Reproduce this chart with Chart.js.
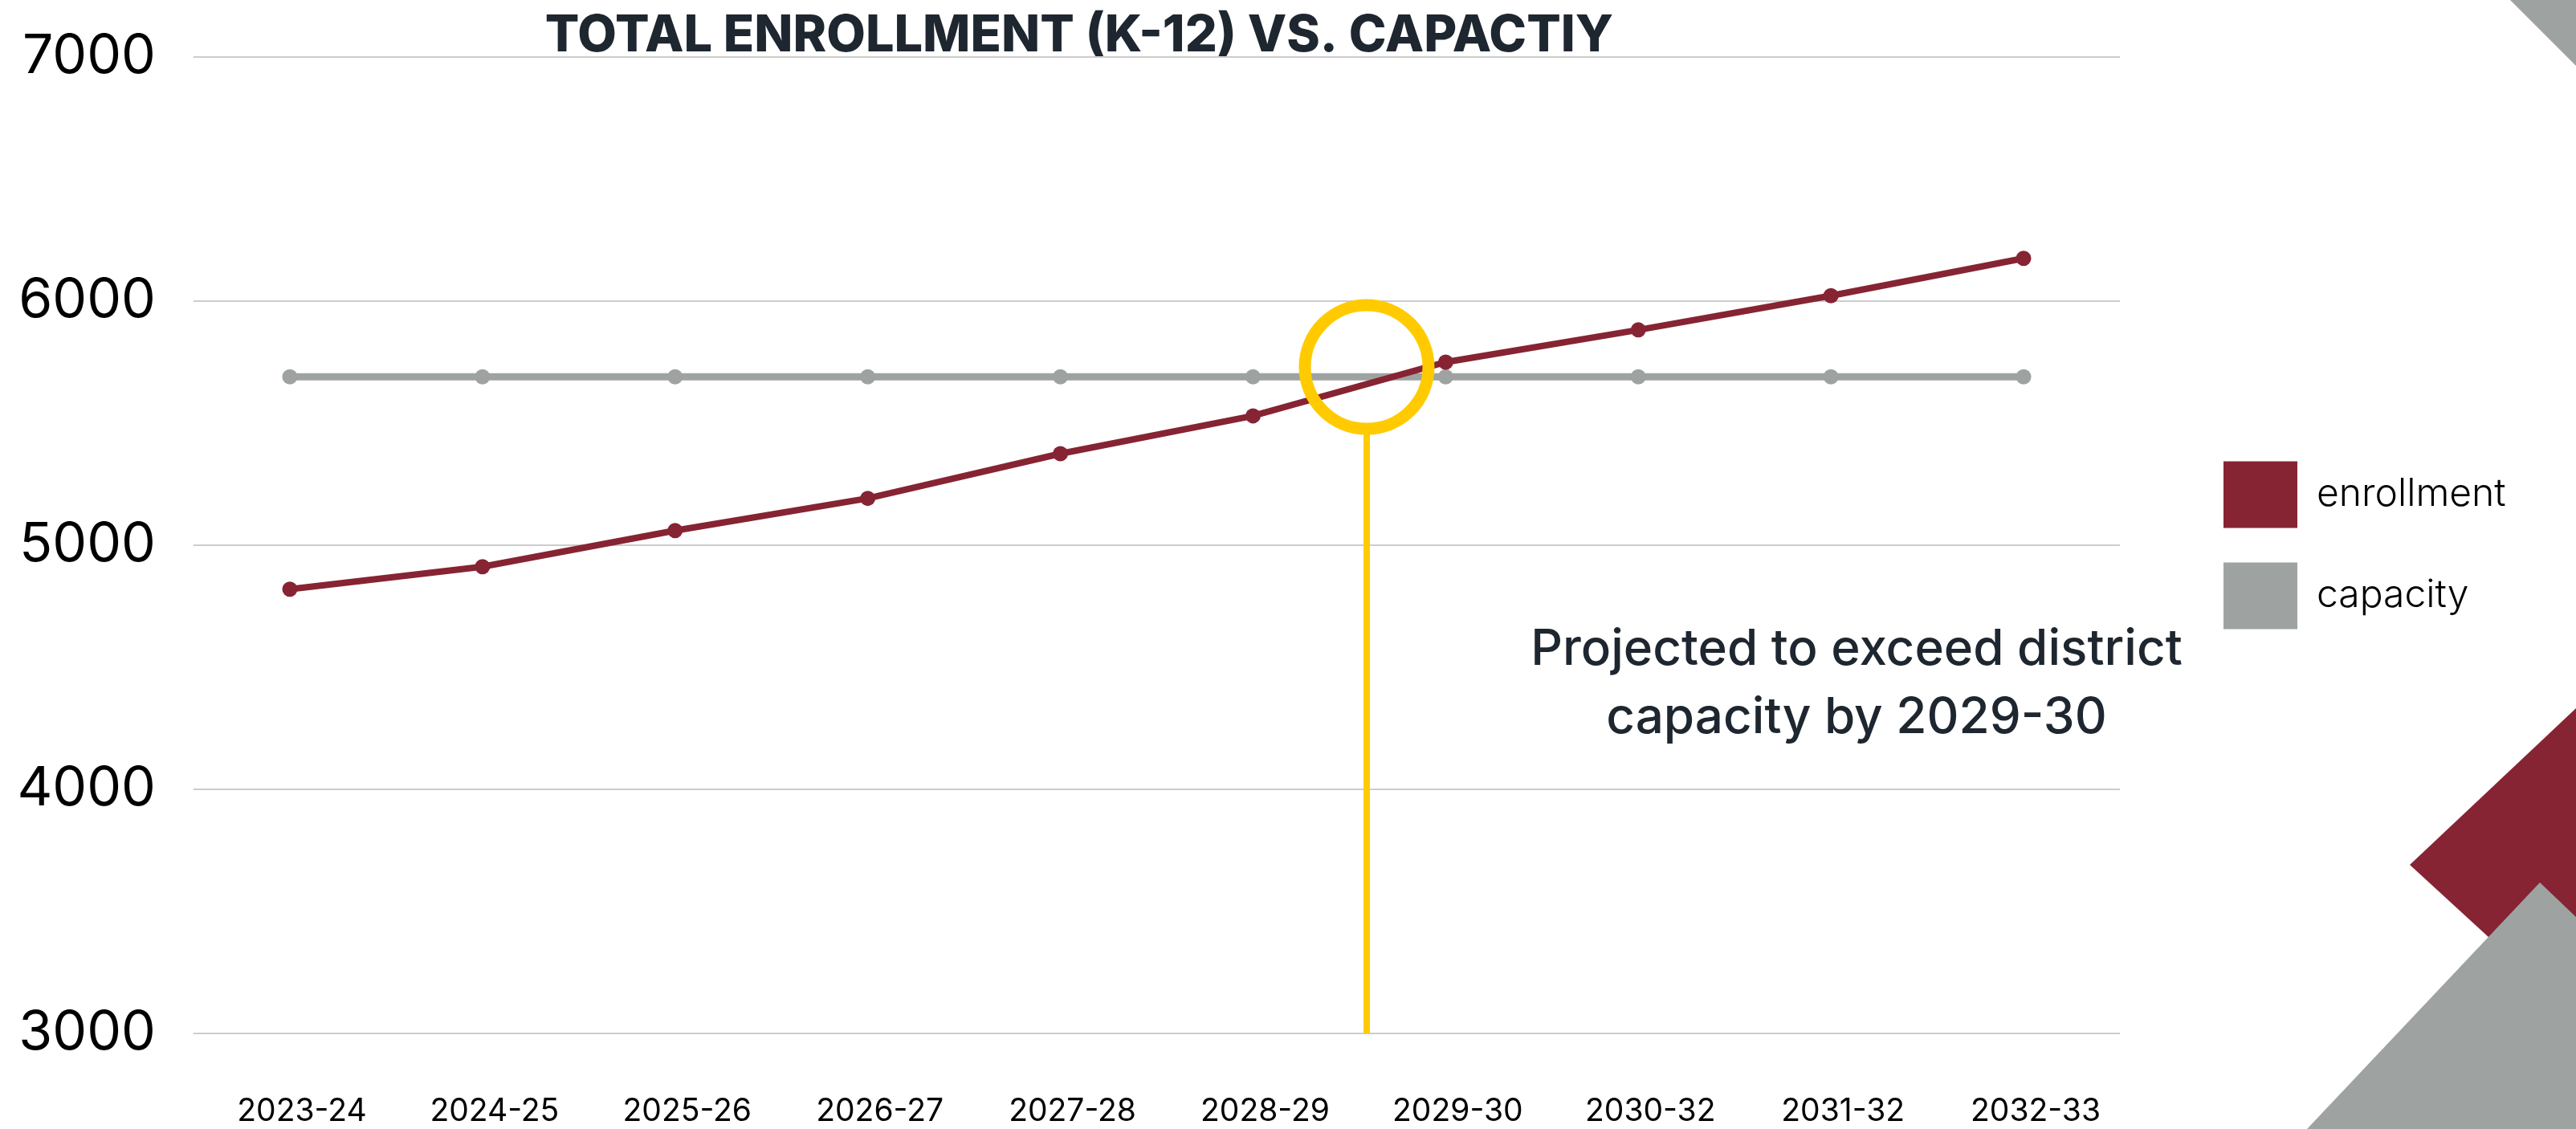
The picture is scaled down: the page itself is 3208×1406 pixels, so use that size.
<!DOCTYPE html>
<html>
<head>
<meta charset="utf-8">
<title>Total Enrollment (K-12) vs. Capacity</title>
<script src="https://cdn.jsdelivr.net/npm/chart.js@4.4.1/dist/chart.umd.min.js"></script>
<style>
  html, body { margin: 0; padding: 0; background: #ffffff; }
  #wrap { width: 3208px; height: 1406px; position: relative; }
</style>
</head>
<body>
<div id="wrap"><canvas id="chart" width="3208" height="1406"></canvas></div>
<script>
// School years on the horizontal axis (labels as published)
const schoolYears = ['2023-24', '2024-25', '2025-26', '2026-27', '2027-28',
                     '2028-29', '2029-30', '2030-32', '2031-32', '2032-33'];

// Projected K-12 enrollment per school year
const enrollment = [4820, 4912, 5060, 5192, 5375, 5530, 5750, 5882, 6022, 6175];

// District capacity per school year
const capacity = [5690, 5690, 5690, 5690, 5690, 5690, 5690, 5690, 5690, 5690];

// Value axis ticks
const valueTicks = [3000, 4000, 5000, 6000, 7000];

const titleText = 'TOTAL ENROLLMENT (K-12) VS. CAPACTIY';
const noteLines = ['Projected to exceed district', 'capacity by 2029-30'];

// Where enrollment crosses capacity (fractional category index, value)
const crossoverIndex = 5.59;
const crossoverValue = 5730;

const MAROON = '#862433';
const GREY = '#9ea3a2';
const GOLD = '#ffcb00';
const INK = '#1e2630';

// Corner decoration behind the chart
const cornerShapes = {
  id: 'cornerShapes',
  beforeDraw(chart) {
    const { ctx, width: W, height: H } = chart;
    const poly = (pts, color) => {
      ctx.beginPath();
      pts.forEach(([x, y], i) => (i ? ctx.lineTo(x, y) : ctx.moveTo(x, y)));
      ctx.closePath();
      ctx.fillStyle = color;
      ctx.fill();
    };
    ctx.save();
    poly([[W - 82, 0], [W, 0], [W, 82]], GREY);
    poly([[W, 882], [W - 207, 1077], [W, 1267]], MAROON);
    poly([[W - 45, 1099], [W, 1142], [W, H], [W - 335, H]], GREY);
    ctx.restore();
  }
};

// Keep the legend column a fixed width so its swatches line up at the right edge
const legendColumn = {
  id: 'legendColumn',
  beforeLayout(chart) {
    const lg = chart.legend;
    if (lg && !lg.__fixedWidth) {
      const fit = lg.fit;
      lg.fit = function () {
        fit.call(this);
        this.width = 482;
      };
      lg.__fixedWidth = true;
    }
  }
};

// Gold ring around the crossover with a drop line to the axis
const crossoverMarker = {
  id: 'crossoverMarker',
  afterDatasetsDraw(chart) {
    const { ctx, scales: { x, y } } = chart;
    const cx = x.getPixelForValue(crossoverIndex);
    const cy = y.getPixelForValue(crossoverValue);
    const r = 77;
    ctx.save();
    ctx.strokeStyle = GOLD;
    ctx.lineWidth = 15;
    ctx.beginPath();
    ctx.arc(cx, cy, r, 0, Math.PI * 2);
    ctx.stroke();
    ctx.lineWidth = 8;
    ctx.beginPath();
    ctx.moveTo(cx, cy + r + 7);
    ctx.lineTo(cx, y.getPixelForValue(valueTicks[0]));
    ctx.stroke();
    ctx.restore();
  }
};

// Heading and the projection note
const headings = {
  id: 'headings',
  afterDraw(chart) {
    const { ctx } = chart;
    ctx.save();
    ctx.fillStyle = INK;
    ctx.textAlign = 'center';
    ctx.textBaseline = 'alphabetic';
    ctx.font = '800 63px Inter';
    ctx.fillText(titleText, 1344, 64);
    ctx.font = '500 62px Inter';
    ctx.fillText(noteLines[0], 2312, 828);
    ctx.fillText(noteLines[1], 2312, 913);
    ctx.restore();
  }
};

Chart.defaults.font.family = 'Inter, "Open Sans", sans-serif';

new Chart(document.getElementById('chart'), {
  type: 'line',
  data: {
    labels: schoolYears,
    datasets: [
      {
        label: 'enrollment',
        data: enrollment,
        borderColor: MAROON,
        backgroundColor: MAROON,
        borderWidth: 8,
        pointRadius: 9.5,
        pointBorderWidth: 0,
        pointBackgroundColor: MAROON,
        tension: 0
      },
      {
        label: 'capacity',
        data: capacity,
        borderColor: GREY,
        backgroundColor: GREY,
        borderWidth: 9,
        pointRadius: 9.5,
        pointBorderWidth: 0,
        pointBackgroundColor: GREY,
        tension: 0
      }
    ]
  },
  options: {
    responsive: false,
    animation: false,
    devicePixelRatio: 1,
    layout: { padding: { top: 71, right: 0, bottom: 0, left: 0 } },
    plugins: {
      title: { display: false },
      tooltip: { enabled: false },
      legend: {
        position: 'right',
        fullSize: false,
        labels: {
          boxWidth: 92,
          boxHeight: 83,
          padding: 43,
          color: '#000000',
          font: { size: 48, weight: 300 },
          generateLabels(chart) {
            return Chart.defaults.plugins.legend.labels.generateLabels(chart)
              .map(item => Object.assign(item, { lineWidth: 0 }));
          }
        }
      }
    },
    scales: {
      x: {
        offset: true,
        grid: { display: false },
        border: { display: false },
        ticks: {
          color: '#000000',
          font: { size: 39 },
          padding: 66,
          labelOffset: 15,
          maxRotation: 0,
          autoSkip: false
        },
        afterFit(scale) { scale.height = 119; }
      },
      y: {
        min: 3000,
        max: 7000,
        border: { display: false },
        grid: {
          color: '#cccccc',
          lineWidth: 2,
          drawTicks: true,
          tickLength: 47,
          tickColor: 'rgba(0,0,0,0)'
        },
        ticks: {
          color: '#000000',
          font: { size: 68 },
          padding: 0,
          callback: value => String(value)
        },
        afterBuildTicks(scale) { scale.ticks = valueTicks.map(v => ({ value: v })); },
        afterFit(scale) { scale.width = 241; }
      },
      gap: {
        position: 'right',
        display: true,
        grid: { display: false },
        border: { display: false },
        ticks: { display: false },
        afterFit(scale) { scale.width = 86; }
      }
    }
  },
  plugins: [cornerShapes, legendColumn, crossoverMarker, headings]
});
</script>
</body>
</html>
